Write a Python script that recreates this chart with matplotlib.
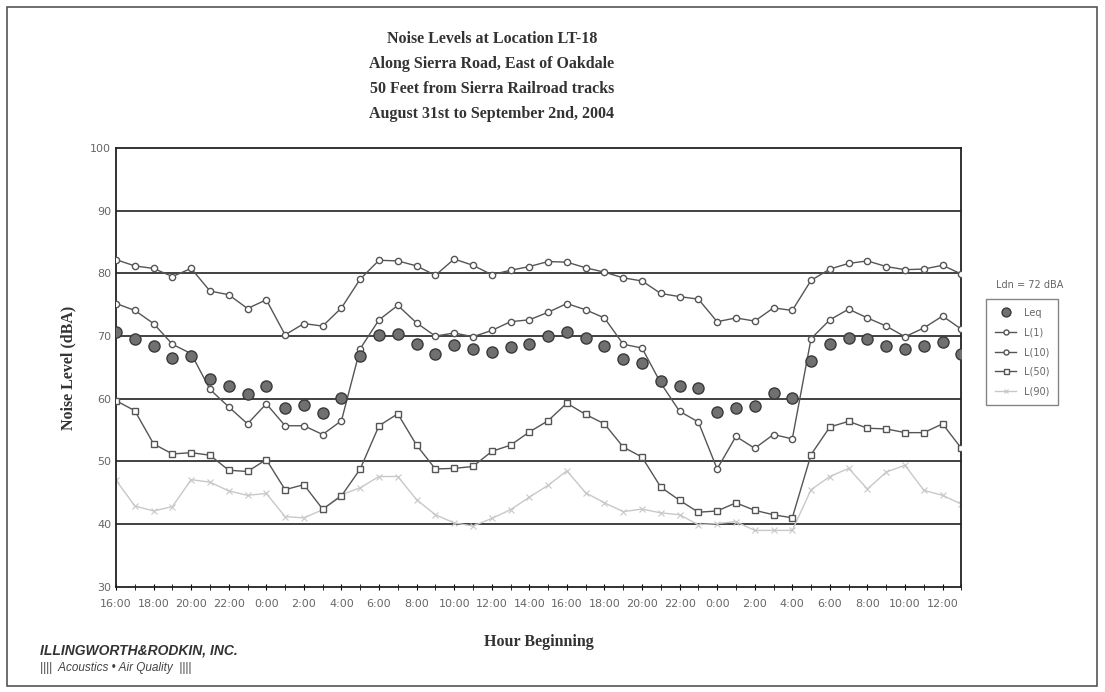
import numpy as np
import matplotlib.pyplot as plt
from matplotlib.patches import Rectangle

# Stundenwerte 16:00 (Tag 1) bis 13:00 (Tag 3)
hours = list(range(16, 24)) + list(range(0, 24)) + list(range(0, 14))
tick_labels = [f"{h}:00" for h in hours]

leq = [70.7, 69.6, 68.4, 66.5, 66.9, 63.2, 62.0, 60.7, 62.0, 58.6, 59.0, 57.7, 60.2, 66.9,
       70.2, 70.3, 68.7, 67.1, 68.6, 67.9, 67.4, 68.3, 68.8, 70.0, 70.7, 69.7, 68.4, 66.3, 65.7,
       62.8, 62.1, 61.8, 57.9, 58.6, 58.8, 60.9, 60.2, 66.1, 68.7, 69.7, 69.6, 68.5, 67.9, 68.4, 69.1, 67.2]
l1 = [82.2, 81.2, 80.8, 79.5, 80.8, 77.2, 76.6, 74.4, 75.8, 70.2, 72.0, 71.6, 74.5, 79.1,
      82.1, 82.0, 81.2, 79.7, 82.3, 81.3, 79.8, 80.5, 81.1, 81.9, 81.8, 80.9, 80.2, 79.3, 78.8,
      76.8, 76.3, 75.9, 72.3, 72.9, 72.4, 74.5, 74.1, 78.9, 80.7, 81.6, 82.0, 81.1, 80.6, 80.7, 81.3, 79.9]
l10 = [75.2, 74.1, 72.0, 68.7, 67.2, 61.5, 58.7, 56.0, 59.2, 55.7, 55.7, 54.3, 56.5, 68.0,
       72.6, 74.9, 72.1, 70.0, 70.5, 69.9, 70.9, 72.3, 72.6, 73.8, 75.2, 74.2, 72.9, 68.7, 68.1,
       62.5, 58.0, 56.3, 48.8, 54.0, 52.1, 54.3, 53.6, 69.6, 72.6, 74.3, 72.9, 71.6, 69.9, 71.3, 73.2, 71.1]
l50 = [59.7, 58.1, 52.8, 51.2, 51.4, 51.0, 48.6, 48.4, 50.3, 45.5, 46.3, 42.4, 44.5, 48.8,
       55.7, 57.6, 52.6, 48.8, 48.9, 49.2, 51.6, 52.6, 54.7, 56.5, 59.3, 57.5, 56.0, 52.3, 50.7,
       45.9, 43.8, 41.9, 42.1, 43.4, 42.2, 41.5, 41.0, 51.1, 55.5, 56.4, 55.3, 55.2, 54.6, 54.6, 56.0, 52.1]
l90 = [47.0, 42.9, 42.1, 42.8, 47.1, 46.7, 45.3, 44.6, 44.9, 41.2, 41.0, 42.3, 44.7, 45.8,
       47.6, 47.6, 43.9, 41.5, 40.2, 39.7, 40.9, 42.3, 44.3, 46.2, 48.5, 45.0, 43.4, 42.0, 42.4,
       41.8, 41.5, 39.9, 40.1, 40.4, 39.0, 39.0, 39.0, 45.5, 47.6, 48.9, 45.6, 48.3, 49.4, 45.4, 44.6, 43.2]

x = np.arange(len(hours))

fig = plt.figure(figsize=(11.05, 6.92), dpi=100)
ax = fig.add_axes([0.105, 0.152, 0.765, 0.634])

# Rahmen um das ganze Bild
fig.patches.append(Rectangle((0.006, 0.008), 0.987, 0.982, transform=fig.transFigure,
                             fill=False, edgecolor='#555555', linewidth=1.2))

for yv in range(40, 100, 10):
    ax.axhline(yv, color='#333333', linewidth=1.3, zorder=1)

line_col = '#555555'
ax.plot(x, l90, color='#c8c8c8', linewidth=1.0, marker='x', markersize=4,
        markeredgewidth=0.8, label='L(90)', zorder=2)
ax.plot(x, l50, color=line_col, linewidth=1.0, marker='s', markersize=4.5,
        markerfacecolor='white', markeredgecolor=line_col, label='L(50)', zorder=3)
ax.plot(x, l10, color=line_col, linewidth=1.0, marker='o', markersize=4.5,
        markerfacecolor='white', markeredgecolor=line_col, label='L(10)', zorder=3)
ax.plot(x, l1, color=line_col, linewidth=1.0, marker='o', markersize=4.5,
        markerfacecolor='white', markeredgecolor=line_col, label='L(1)', zorder=3)
ax.plot(x, leq, linestyle='none', marker='o', markersize=8, markerfacecolor='#707070',
        markeredgecolor='#3a3a3a', markeredgewidth=1.0, label='Leq', zorder=4)

ax.set_xlim(0, len(hours) - 1)
ax.set_ylim(30, 100)
ax.set_yticks(range(30, 101, 10))
ax.set_xticks(x[::2])
ax.set_xticklabels(tick_labels[::2])
ax.set_xticks(x, minor=True)
ax.tick_params(axis='both', labelsize=8, labelcolor='#666666', direction='inout',
               length=5, width=0.8)
ax.tick_params(axis='x', which='minor', direction='inout', length=4)
ax.tick_params(axis='x', pad=6)
ax.tick_params(axis='y', length=0)
for sp in ax.spines.values():
    sp.set_linewidth(1.3)
    sp.set_color('#222222')

ax.set_ylabel('Noise Level (dBA)', family='Liberation Serif', fontweight='bold',
              fontsize=11.5, color='#333333', labelpad=10)
ax.set_xlabel('Hour Beginning', family='Liberation Serif', fontweight='bold',
              fontsize=11.5, color='#333333', labelpad=18)

title = ("Noise Levels at Location LT-18\nAlong Sierra Road, East of Oakdale\n"
         "50 Feet from Sierra Railroad tracks\nAugust 31st to September 2nd, 2004")
fig.text(0.445, 0.955, title, ha='center', va='top', family='Liberation Serif',
         fontweight='bold', fontsize=11.5, color='#333333', linespacing=1.75)

# Legende rechts
handles, labels = ax.get_legend_handles_labels()
order = [4, 3, 2, 1, 0]
leg = fig.legend([handles[i] for i in order], [labels[i] for i in order],
                 loc='upper left', bbox_to_anchor=(0.888, 0.575), fontsize=7,
                 frameon=True, fancybox=False, edgecolor='#666666',
                 handlelength=2.2, labelspacing=1.0, borderpad=0.9, markerscale=0.8)
for t in leg.get_texts():
    t.set_color('#666666')
fig.text(0.932, 0.584, 'Ldn = 72 dBA', ha='center', fontsize=7, color='#666666')

# Firmenlogo unten links
fig.text(0.036, 0.054, 'ILLINGWORTH&RODKIN, INC.', fontsize=10, fontweight='bold',
         fontstyle='italic', color='#333333', family='Liberation Sans')
fig.text(0.036, 0.030, '||||  Acoustics • Air Quality  ||||', fontsize=8.5, fontstyle='italic',
         color='#444444', family='Liberation Sans')

fig.savefig('out.png', dpi=100)
